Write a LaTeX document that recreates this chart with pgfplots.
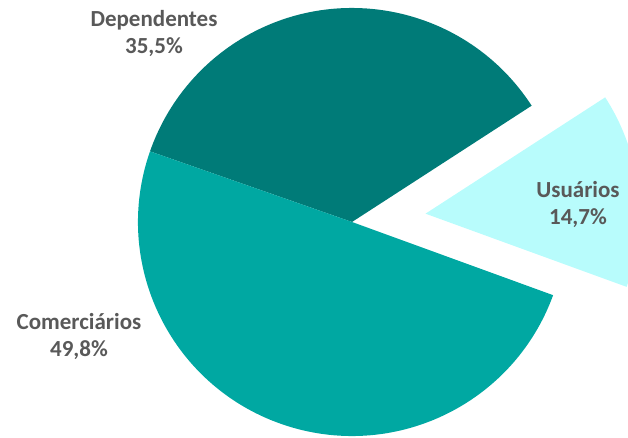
\documentclass[border=0pt]{standalone}
\usepackage{pgfplots}
\pgfplotsset{compat=1.18}
\usepackage{pgfplotstable}
\usepackage{fontspec}
\setmainfont{Carlito}
\definecolor{cUsu}{HTML}{B8FCFC}
\definecolor{cDep}{HTML}{007B78}
\definecolor{cCom}{HTML}{00A8A2}
\definecolor{txt}{HTML}{595959}
\pgfplotstableread[col sep=comma]{
name,value
Usuarios,14.7
Dependentes,35.5
Comerciarios,49.8
}\piedata
\begin{document}
\begin{tikzpicture}
\pgfplotstablegetelem{0}{value}\of\piedata \let\vA\pgfplotsretval
\pgfplotstablegetelem{1}{value}\of\piedata \let\vB\pgfplotsretval
\pgfplotstablegetelem{2}{value}\of\piedata \let\vC\pgfplotsretval
\pgfmathsetmacro{\aS}{-20}
\pgfmathsetmacro{\aA}{\aS+3.6*\vA}
\pgfmathsetmacro{\aB}{\aA+3.6*\vB}
\pgfmathsetmacro{\aC}{\aB+3.6*\vC}
\pgfmathsetmacro{\mA}{(\aS+\aA)/2}
\pgfmathsetmacro{\ex}{352+74*cos(\mA)}
\pgfmathsetmacro{\ey}{216+74*sin(\mA)}
\begin{axis}[
  width=628bp, height=438bp, scale only axis,
  xmin=0, xmax=628, ymin=0, ymax=438,
  hide axis, clip=true,
]
\fill[cUsu] (axis cs:\ex,\ey) -- ++(\aS:214bp) arc[start angle=\aS, end angle=\aA, radius=214bp] -- cycle;
\fill[cDep] (axis cs:352,216) -- ++(\aA:214bp) arc[start angle=\aA, end angle=\aB, radius=214bp] -- cycle;
\fill[cCom] (axis cs:352,216) -- ++(\aB:214bp) arc[start angle=\aB, end angle=\aC, radius=214bp] -- cycle;
\node[align=center, text=txt, font=\fontsize{23bp}{27bp}\selectfont\bfseries] at (axis cs:154,405) {Dependentes\\35,5\%};
\node[align=center, text=txt, font=\fontsize{23bp}{27bp}\selectfont\bfseries] at (axis cs:578,234) {Usuários\\14,7\%};
\node[align=center, text=txt, font=\fontsize{23bp}{27bp}\selectfont\bfseries] at (axis cs:79,102) {Comerciários\\49,8\%};
\end{axis}
\pgfresetboundingbox
\useasboundingbox (current axis.south west) rectangle (current axis.north east);
\end{tikzpicture}
\end{document}
